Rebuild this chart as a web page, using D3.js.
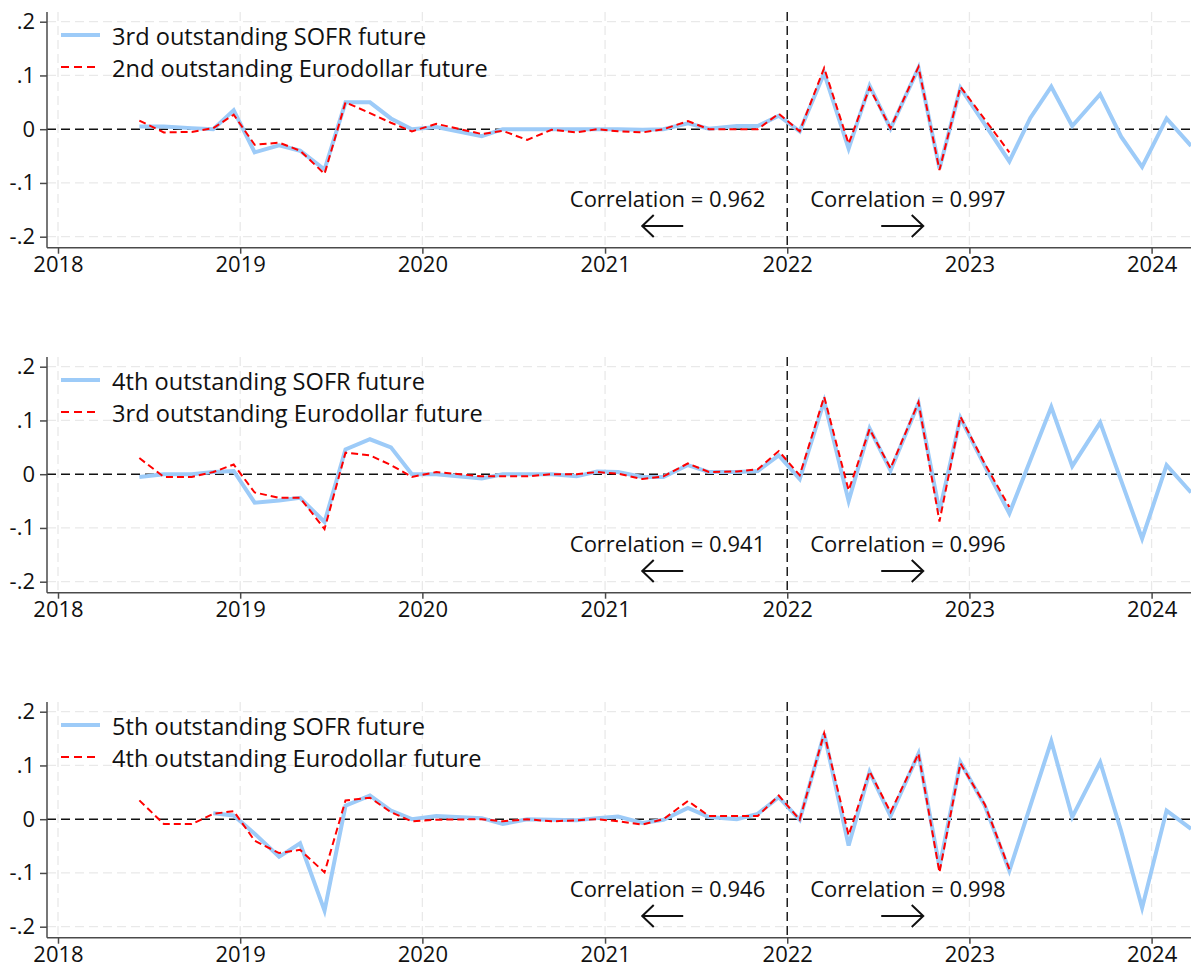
<!DOCTYPE html>
<html><head><meta charset="utf-8">
<script src="https://cdn.jsdelivr.net/npm/d3@7"></script>
<style>
body{margin:0;background:#fff}
svg{display:block}
text{font-family:"Open Sans",sans-serif;fill:#111}
</style>
</head><body>
<svg id="chart" width="1191" height="967"></svg>
<script>
// FOMC announcement dates (x values)
const fomcDates = ["2018-06-13","2018-08-01","2018-09-26","2018-11-08","2018-12-19",
  "2019-01-30","2019-03-20","2019-05-01","2019-06-19","2019-07-31","2019-09-18","2019-10-30","2019-12-11",
  "2020-01-29","2020-04-29","2020-06-10","2020-07-29","2020-09-16","2020-11-05","2020-12-16",
  "2021-01-27","2021-03-17","2021-04-28","2021-06-16","2021-07-28","2021-09-22","2021-11-03","2021-12-15",
  "2022-01-26","2022-03-16","2022-05-04","2022-06-15","2022-07-27","2022-09-21","2022-11-02","2022-12-14",
  "2023-02-01","2023-03-22","2023-05-03","2023-06-14","2023-07-26","2023-09-20","2023-11-01","2023-12-13",
  "2024-01-31","2024-03-20"];

// Panel 1
const sofr3 = [0.005,0.005,0.002,0,0.035,-0.043,-0.030,-0.040,-0.075,0.050,0.050,0.020,0,0.004,-0.013,0,0,0,0,0,0,-0.001,0,0.011,0.001,0.006,0.006,0.025,-0.004,0.104,-0.036,0.081,0.001,0.114,-0.073,0.077,0.009,-0.060,0.021,0.079,0.006,0.065,-0.014,-0.070,0.020,-0.031];
const ed2 = [0.016,-0.006,-0.005,0.002,0.027,-0.029,-0.025,-0.040,-0.083,0.050,0.030,0.012,-0.004,0.010,-0.009,-0.003,-0.020,-0.001,-0.006,0,-0.004,-0.006,0,0.015,0,0,0,0.029,-0.004,0.114,-0.027,0.077,0.002,0.116,-0.076,0.079,0.018,-0.043,null,null,null,null,null,null,null,null];
// Panel 2
const sofr4 = [-0.005,0,0,0.004,0.006,-0.053,-0.049,-0.044,-0.089,0.046,0.065,0.050,0,0,-0.008,0,0,0,-0.004,0.005,0.004,-0.005,-0.005,0.017,0.004,0.004,0.006,0.035,-0.009,0.136,-0.050,0.085,0.007,0.132,-0.069,0.105,0.015,-0.073,0.026,0.125,0.015,0.096,-0.012,-0.120,0.017,-0.034];
const ed3 = [0.030,-0.005,-0.005,0.004,0.018,-0.034,-0.044,-0.044,-0.102,0.040,0.035,0.017,-0.005,0.004,-0.004,-0.004,-0.004,0,0,0.004,0.001,-0.009,-0.004,0.020,0.004,0.005,0.009,0.043,-0.002,0.144,-0.030,0.084,0.011,0.134,-0.088,0.107,0.019,-0.061,null,null,null,null,null,null,null,null];
// Panel 3
const sofr5 = [null,null,null,0.011,0.007,-0.027,-0.070,-0.045,-0.170,0.025,0.044,0.016,0,0.006,0.002,-0.009,0,-0.001,-0.002,0.002,0.005,-0.007,-0.001,0.021,0.004,0,0.010,0.041,-0.001,0.159,-0.049,0.088,0.006,0.122,-0.089,0.106,0.025,-0.096,0.025,0.145,0.004,0.106,-0.022,-0.165,0.016,-0.018];
const ed4 = [0.035,-0.009,-0.009,0.010,0.015,-0.040,-0.063,-0.057,-0.099,0.035,0.040,0.013,-0.004,-0.001,0,-0.004,0,-0.004,-0.002,0,-0.004,-0.010,0,0.034,0.006,0.006,0.006,0.044,-0.001,0.160,-0.030,0.089,0.013,0.122,-0.099,0.104,0.027,-0.093,null,null,null,null,null,null,null,null];

const sofrLabels = ["3rd outstanding SOFR future","4th outstanding SOFR future","5th outstanding SOFR future"];
const edLabels = ["2nd outstanding Eurodollar future","3rd outstanding Eurodollar future","4th outstanding Eurodollar future"];
const corrBefore = ["0.962","0.941","0.946"];
const corrAfter = ["0.997","0.996","0.998"];

const yTickValues = [0.2,0.1,0,-0.1,-0.2];
const yTickLabels = [".2",".1","0","-.1","-.2"];
const xTickYears = [2018,2019,2020,2021,2022,2023,2024];
const breakDate = "2022-01-01";

const parse = d3.timeParse("%Y-%m-%d");
const dates = fomcDates.map(parse);
const panels = [
  {sofr: sofr3, ed: ed2},
  {sofr: sofr4, ed: ed3},
  {sofr: sofr5, ed: ed4}
].map((p,i)=>Object.assign(p,{sofrLabel:sofrLabels[i],edLabel:edLabels[i],cb:corrBefore[i],ca:corrAfter[i]}));

const svg = d3.select("#chart");
svg.append("rect").attr("width",1191).attr("height",967).attr("fill","#fff");

const plotLeft=47, plotRight=1191, plotTop=12, plotBottom=247.7, panelStep=345;
const x = d3.scaleTime().domain([new Date(2018,0,1), new Date(2024,0,1)]).range([58,1151.6]);
const y = d3.scaleLinear().domain([-0.2,0.2]).range([236.7,21.7]);
const BLUE="#9dcbf8", RED="#ff0000", AXIS="#4a4a4a", GRID="#e9e9e9";
const FS=22, LFS=23.6;

svg.append("defs").append("clipPath").attr("id","clip")
  .append("rect").attr("x",plotLeft).attr("y",plotTop).attr("width",plotRight-plotLeft).attr("height",plotBottom-plotTop);

panels.forEach((p,i)=>{
  const g = svg.append("g").attr("transform",`translate(0,${i*panelStep})`);
  // gridlines
  g.selectAll(".hg").data(yTickValues.filter(v=>v!==0)).join("line")
    .attr("x1",plotLeft).attr("x2",plotRight).attr("y1",d=>y(d)).attr("y2",d=>y(d))
    .attr("stroke",GRID).attr("stroke-width",1.3).attr("stroke-dasharray","9,5");
  g.selectAll(".vg").data(xTickYears).join("line")
    .attr("x1",d=>x(new Date(d,0,1))).attr("x2",d=>x(new Date(d,0,1)))
    .attr("y1",plotTop).attr("y2",plotBottom)
    .attr("stroke",GRID).attr("stroke-width",1.3).attr("stroke-dasharray","9,5");
  // zero line
  g.append("line").attr("x1",plotLeft).attr("x2",plotRight).attr("y1",y(0)).attr("y2",y(0))
    .attr("stroke","#111").attr("stroke-width",1.4).attr("stroke-dasharray","9,5");
  // vertical break line
  const xb = x(parse(breakDate));
  g.append("line").attr("x1",xb).attr("x2",xb).attr("y1",plotTop).attr("y2",plotBottom)
    .attr("stroke","#111").attr("stroke-width",1.4).attr("stroke-dasharray","9,5");

  const lines = g.append("g").attr("clip-path","url(#clip)");
  const lineGen = d3.line().defined(d=>d[1]!==null).x(d=>x(d[0])).y(d=>y(d[1]));
  lines.append("path").datum(dates.map((d,k)=>[d,p.sofr[k]]))
    .attr("d",lineGen).attr("fill","none").attr("stroke",BLUE).attr("stroke-width",4).attr("stroke-linejoin","miter");
  lines.append("path").datum(dates.map((d,k)=>[d,p.ed[k]]))
    .attr("d",lineGen).attr("fill","none").attr("stroke",RED).attr("stroke-width",2).attr("stroke-dasharray","7,4");

  // axes
  const xAxis = g.append("g").attr("transform",`translate(0,${plotBottom})`)
    .call(d3.axisBottom(x).tickValues(xTickYears.map(yy=>new Date(yy,0,1))).tickFormat(d3.timeFormat("%Y")).tickSize(6).tickPadding(2.5));
  xAxis.select(".domain").remove();
  xAxis.selectAll("line").attr("stroke",AXIS).attr("stroke-width",1.5);
  xAxis.selectAll("text").attr("font-size",FS).attr("font-family","Open Sans").attr("fill","#111");
  g.append("line").attr("x1",plotLeft).attr("x2",plotRight).attr("y1",plotBottom).attr("y2",plotBottom).attr("stroke",AXIS).attr("stroke-width",1.5);

  const yAxis = g.append("g").attr("transform",`translate(${plotLeft},0)`)
    .call(d3.axisLeft(y).tickValues(yTickValues).tickFormat((d,k)=>yTickLabels[k]).tickSize(7).tickPadding(5));
  yAxis.select(".domain").remove();
  yAxis.selectAll("line").attr("stroke",AXIS).attr("stroke-width",1.5);
  yAxis.selectAll("text").attr("font-size",FS).attr("font-family","Open Sans").attr("fill","#111");
  g.append("line").attr("x1",plotLeft).attr("x2",plotLeft).attr("y1",plotTop).attr("y2",plotBottom).attr("stroke",AXIS).attr("stroke-width",1.5);

  // legend
  g.append("line").attr("x1",61).attr("x2",100).attr("y1",35).attr("y2",35).attr("stroke",BLUE).attr("stroke-width",4);
  g.append("text").attr("x",112).attr("y",45).attr("font-size",LFS).text(p.sofrLabel);
  g.append("line").attr("x1",61).attr("x2",100).attr("y1",67).attr("y2",67).attr("stroke",RED).attr("stroke-width",2).attr("stroke-dasharray","8,5");
  g.append("text").attr("x",112).attr("y",76.5).attr("font-size",LFS).text(p.edLabel);

  // correlation annotations
  g.append("text").attr("x",xb-22).attr("y",207).attr("text-anchor","end").attr("font-size",FS).text("Correlation = "+p.cb);
  g.append("text").attr("x",xb+23).attr("y",207).attr("text-anchor","start").attr("font-size",FS).text("Correlation = "+p.ca);
  const ay = 226;
  const la = [xb-145, xb-104], ra=[xb+94, xb+136];
  g.append("path").attr("d",`M${la[1]},${ay}H${la[0]}M${la[0]+11.5},${ay-11}L${la[0]},${ay}L${la[0]+11.5},${ay+11}`)
    .attr("fill","none").attr("stroke","#111").attr("stroke-width",2);
  g.append("path").attr("d",`M${ra[0]},${ay}H${ra[1]}M${ra[1]-11.5},${ay-11}L${ra[1]},${ay}L${ra[1]-11.5},${ay+11}`)
    .attr("fill","none").attr("stroke","#111").attr("stroke-width",2);
});
</script>
</body></html>
